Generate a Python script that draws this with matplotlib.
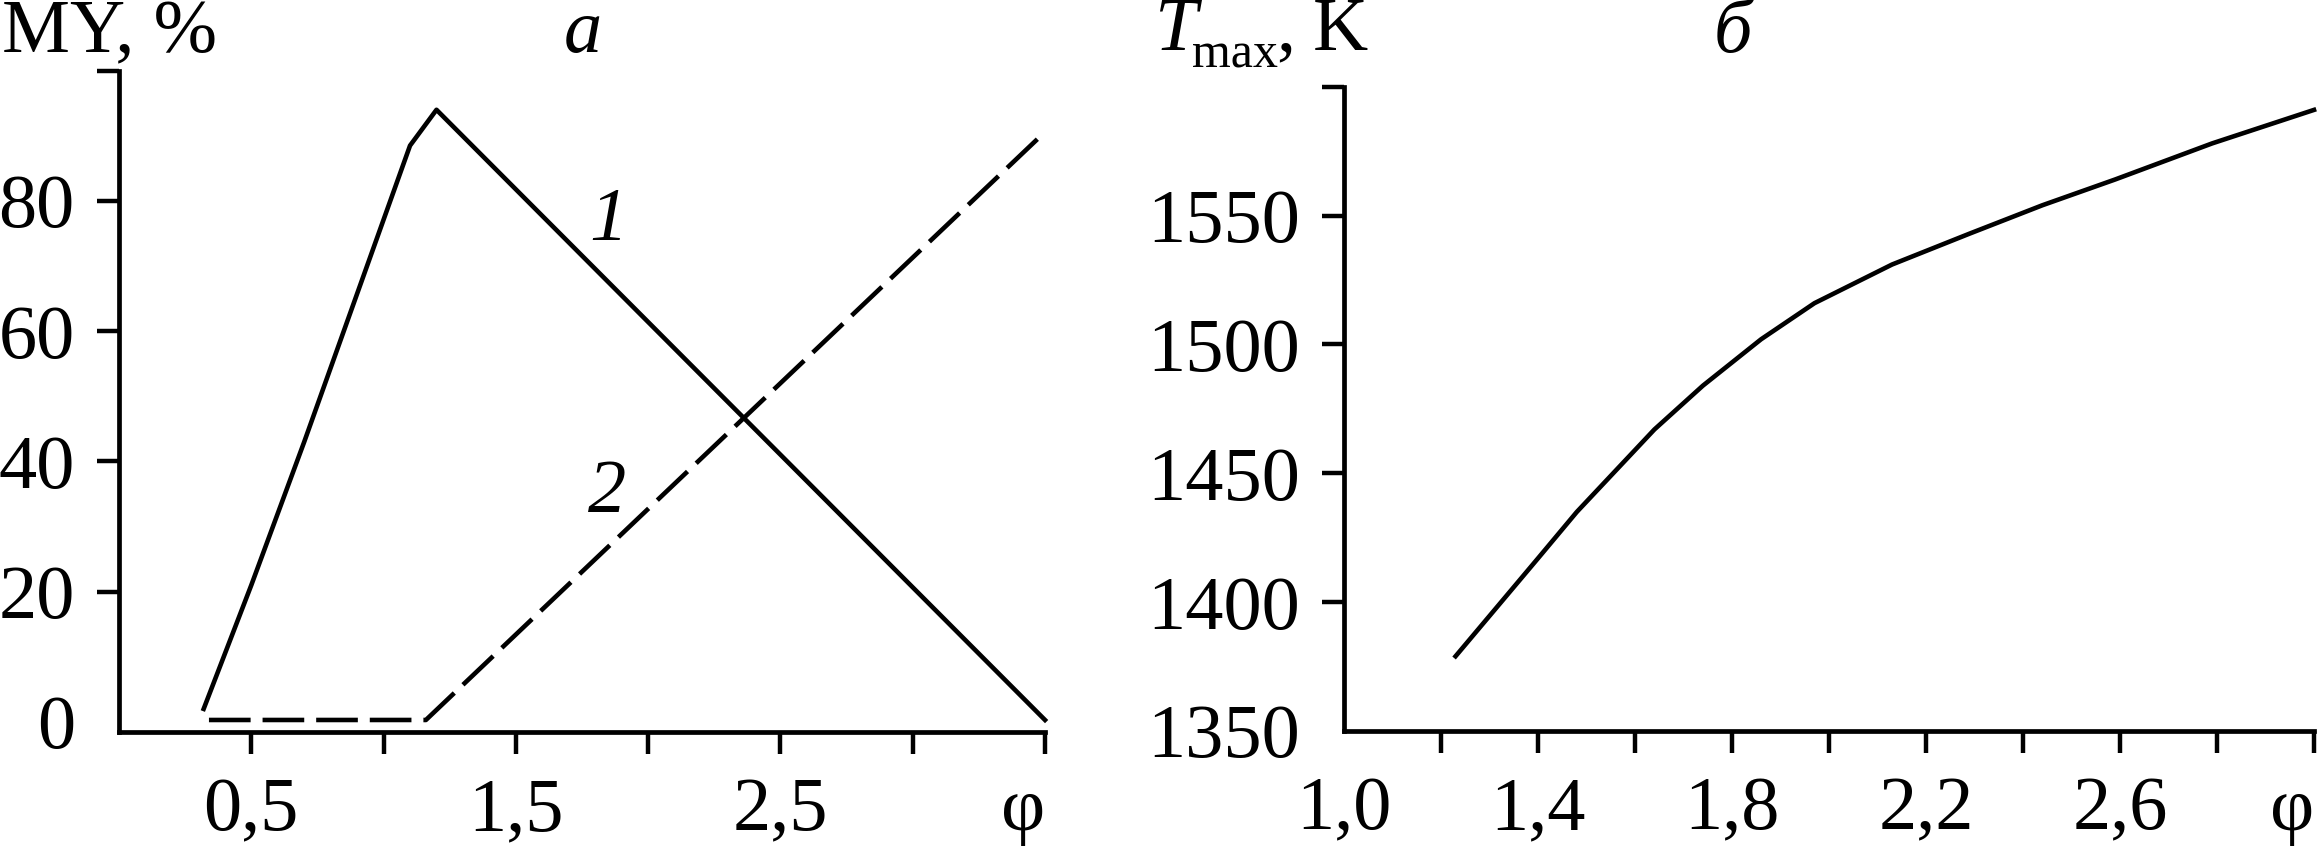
import matplotlib
matplotlib.use('Agg')
import matplotlib.pyplot as plt

# panel a: MY, % vs phi
phi_1 = [0.32, 0.5, 0.7, 1.1, 1.2, 3.5]
my_1 = [2.0, 21.0, 43.0, 88.5, 94.0, 0.3]
phi_2 = [0.34, 1.16, 3.5]
my_2 = [0.3, 0.3, 90.6]

# panel b: Tmax, K vs phi
phi_t = [1.23, 1.40, 1.48, 1.64, 1.74, 1.86, 1.97, 2.13, 2.29, 2.44, 2.59, 2.79, 3.0]
t_max = [1379, 1417, 1435, 1467, 1484, 1502, 1516, 1531, 1543, 1554, 1564, 1578, 1591]

yticks_a = [0, 20, 40, 60, 80, 100]
ylabels_a = ['0', '20', '40', '60', '80', '']
xticks_a = [0.5, 1.0, 1.5, 2.0, 2.5, 3.0, 3.5]
xlabels_a = ['0,5', '', '1,5', '', '2,5', '', 'φ']

yticks_b = [1350, 1400, 1450, 1500, 1550, 1600]
ylabels_b = ['1350', '1400', '1450', '1500', '1550', '']
xticks_b = [1.0, 1.2, 1.4, 1.6, 1.8, 2.0, 2.2, 2.4, 2.6, 2.8, 3.0]
xlabels_b = ['1,0', '', '1,4', '', '1,8', '', '2,2', '', '2,6', '', 'φ']

plt.rcParams['font.family'] = ['Liberation Serif', 'DejaVu Serif']
plt.rcParams['lines.scale_dashes'] = False

W, H = 2317, 849
FS = 55
fig = plt.figure(figsize=(W / 100, H / 100), dpi=100)


def px_box(x0, y0, x1, y1):
    # pixel box (from top-left) -> figure fraction rect
    return [x0 / W, 1 - y1 / H, (x1 - x0) / W, (y1 - y0) / H]


def ftext(x, y, s, **kw):
    # text placed by pixel position, measured from top-left
    return fig.text(x / W, 1 - y / H, s, **kw)


def style_axes(ax):
    for s in ['top', 'right']:
        ax.spines[s].set_visible(False)
    for s in ['left', 'bottom']:
        ax.spines[s].set_linewidth(3.4)
    ax.tick_params(length=15.8, width=3.2, labelsize=FS, colors='black')
    ax.tick_params(axis='x', pad=17)
    ax.tick_params(axis='y', pad=16)
    # the last x label (φ) sits just left of its tick
    ax.get_xticklabels()[-1].set_horizontalalignment('right')


ax1 = fig.add_axes(px_box(119, 70.7, 1045, 731.7))
ax1.plot(phi_1, my_1, color='black', lw=3.3, clip_on=False)
ax1.plot(phi_2, my_2, color='black', lw=3.3, clip_on=False, dashes=(30, 8.6))
ax1.set_xlim(0, 3.5)
ax1.set_ylim(-1.5, 100)
ax1.set_xticks(xticks_a)
ax1.set_xticklabels(xlabels_a)
ax1.set_yticks(yticks_a)
ax1.set_yticklabels(ylabels_a)
style_axes(ax1)
ax1.yaxis.get_major_ticks()[0].tick1line.set_visible(False)
ax1.text(1.85, 76.8, '1', fontsize=FS, style='italic', ha='center', va='center')
ax1.text(1.845, 35.1, '2', fontsize=FS, style='italic', ha='center', va='center')

ax2 = fig.add_axes(px_box(1344, 86.7, 2314, 731))
ax2.plot(phi_t, t_max, color='black', lw=3.3, clip_on=False)
ax2.set_xlim(1.0, 3.0)
ax2.set_ylim(1351, 1600)
ax2.set_xticks(xticks_b)
ax2.set_xticklabels(xlabels_b)
ax2.set_yticks(yticks_b)
ax2.set_yticklabels(ylabels_b)
style_axes(ax2)
ax2.yaxis.get_major_ticks()[0].tick1line.set_visible(False)
ax2.xaxis.get_major_ticks()[0].tick1line.set_visible(False)

ftext(2, 52, 'MY, %', fontsize=FS, ha='left', va='baseline')
ftext(1155, 50, 'T', fontsize=FS, style='italic', ha='left', va='baseline')
ftext(1192, 67, 'max', fontsize=36, ha='left', va='baseline')
ftext(1276, 50, ',', fontsize=FS, ha='left', va='baseline')
ftext(1313, 50, 'K', fontsize=FS, ha='left', va='baseline')
ftext(583, 52, 'а', fontsize=FS, style='italic', ha='center', va='baseline')
ftext(1733, 52, 'б', fontsize=FS, style='italic', ha='center', va='baseline')

fig.savefig('out.png', dpi=100, facecolor='white')
